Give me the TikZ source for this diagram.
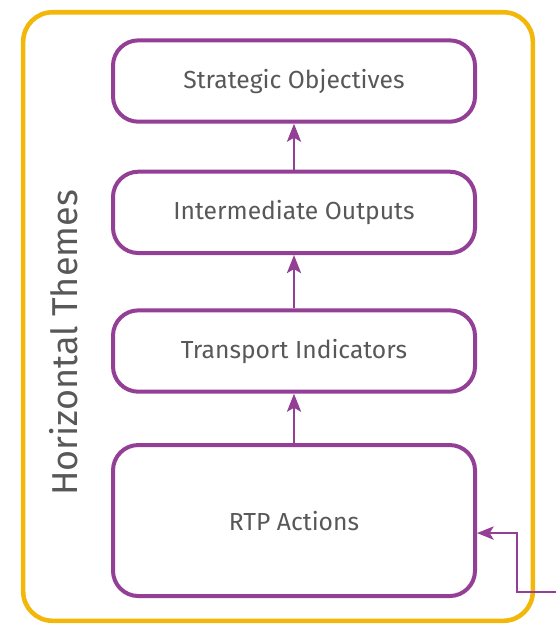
\documentclass[tikz,border=0pt]{standalone}
\usepackage{fontspec}
\setmainfont{Fira Sans}
\usepackage{xcolor}
\usepackage{tikz}
\usetikzlibrary{positioning,arrows.meta}

\definecolor{rtppurple}{HTML}{933F96}
\definecolor{rtpyellow}{HTML}{F3B709}
\definecolor{rtpgray}{HTML}{585858}

\begin{document}
\begin{tikzpicture}[
    font=\fontsize{18.5}{22}\selectfont,
    text=rtpgray,
    box/.style={
        draw=rtppurple,
        line width=3pt,
        rounded corners=19pt,
        align=center,
        minimum width=271.5pt,
        minimum height=61pt,
        inner sep=4pt
    },
    arrow/.style={-{Stealth[length=13.5pt,width=10.5pt,inset=3pt]}, rtppurple, line width=2.2pt},
    feedback/.style={-{Stealth[length=12.5pt,width=10pt,inset=3pt]}, rtppurple, line width=1.5pt}
]
\useasboundingbox (0,0) rectangle (417pt,-468pt);

% frame of the horizontal themes
\draw[rtpyellow, line width=3.4pt, rounded corners=22pt]
    (17.4pt,-9.2pt) rectangle (399.6pt,-465.6pt);
\node[rotate=90, font=\fontsize{27}{32}\selectfont] (themes) at (48pt,-257.25pt) {Horizontal Themes};

\node[box, minimum height=113.25pt] (actions) at (220.5pt,-390.4pt) {RTP Actions};
\node[box, above=37pt of actions] (indicators) {Transport Indicators};
\node[box, above=40pt of indicators] (outputs) {Intermediate Outputs};
\node[box, above=34.5pt of outputs] (objectives) {Strategic Objectives};

\draw[arrow] (actions) -- (indicators);
\draw[arrow] (indicators) -- (outputs);
\draw[arrow] (outputs) -- (objectives);

\coordinate (fbin) at (417pt,-444pt);
\coordinate (fbtip) at ([yshift=-9.4pt]actions.east);
\draw[feedback] (fbin) -- ++(-29.25pt,0) |- (fbtip);
\end{tikzpicture}
\end{document}
